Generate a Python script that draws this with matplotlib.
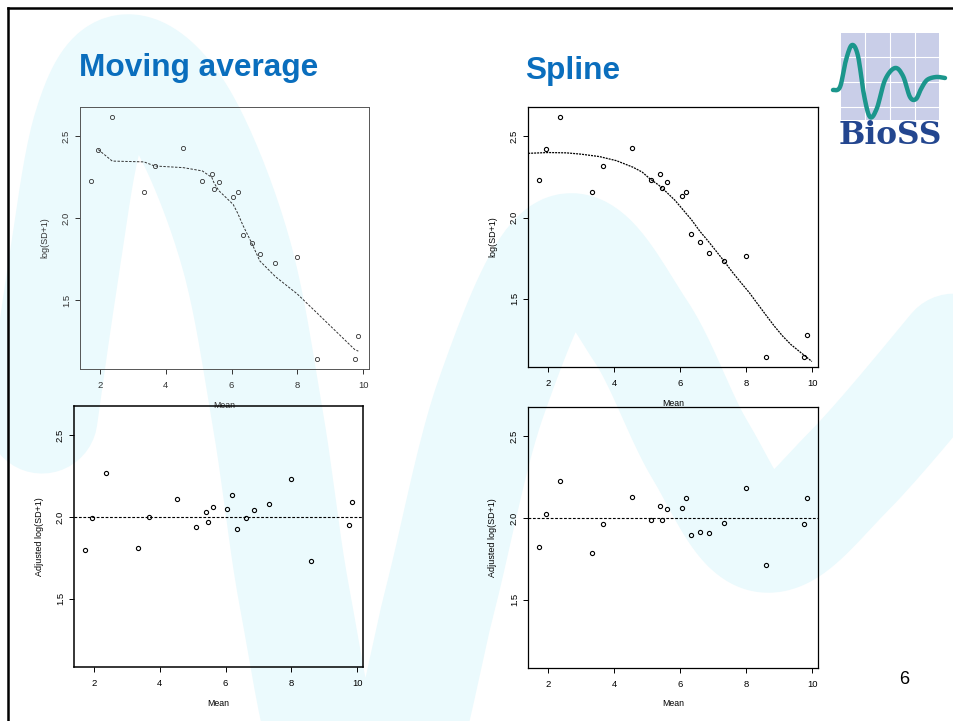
import numpy as np
import matplotlib
matplotlib.use("Agg")
import matplotlib.pyplot as plt
from matplotlib.patches import Rectangle

# ---- data ----
mean_x = [1.72, 1.95, 2.375, 3.34, 3.66, 4.53, 5.11, 5.40, 5.46, 5.61,
          6.05, 6.19, 6.34, 6.61, 6.86, 7.33, 7.99, 8.61, 9.74, 9.85]
log_sd = [2.23, 2.42, 2.62, 2.16, 2.32, 2.43, 2.23, 2.27, 2.18, 2.22,
          2.13, 2.16, 1.90, 1.85, 1.78, 1.73, 1.765, 1.14, 1.14, 1.28]

# moving average fit, drawn from the 2nd point on
ma_x = mean_x[1:]
ma_fit = [2.42, 2.35, 2.345, 2.32, 2.31, 2.29, 2.25, 2.22, 2.17, 2.085,
          2.03, 1.96, 1.85, 1.74, 1.645, 1.54, 1.42, 1.20, 1.19]

# smoothing spline fit
spline_x = [1.40, 2.0, 2.56, 3.0, 3.56, 4.07, 4.57, 4.85, 5.10, 5.35, 5.58, 5.85, 6.08,
            6.35, 6.59, 6.85, 7.09, 7.35, 7.6, 7.85, 8.1, 8.35, 8.6, 8.85, 9.11, 9.35,
            9.61, 9.99]
spline_fit = [2.395, 2.40, 2.398, 2.39, 2.375, 2.35, 2.31, 2.28, 2.236, 2.20, 2.158,
              2.105, 2.05, 1.985, 1.918, 1.855, 1.794, 1.727, 1.66, 1.598, 1.537,
              1.468, 1.40, 1.333, 1.27, 1.22, 1.177, 1.115]

ma_adjusted = [1.797, 1.994, 2.27, 1.81, 2.00, 2.11, 1.94, 2.03, 1.97, 2.06,
               2.046, 2.137, 1.925, 1.994, 2.04, 2.08, 2.234, 1.73, 1.95, 2.09]
spline_adjusted = [1.825, 2.022, 2.224, 1.786, 1.961, 2.127, 1.985, 2.074, 1.985, 2.055,
                   2.062, 2.123, 1.893, 1.915, 1.909, 1.967, 2.181, 1.714, 1.961, 2.12]

x_ticks = [2, 4, 6, 8, 10]
y_ticks = [1.5, 2.0, 2.5]
y_tick_labels = ["1.5", "2.0", "2.5"]
baseline = 2.0

W, H = 954, 721
FONT = "Liberation Sans"
plt.rcParams["font.family"] = [FONT, "DejaVu Sans"]


def catmull(pts, n=20):
    # smooth path through hand placed points (decoration only)
    p = np.array(pts, dtype=float)
    p = np.vstack([p[0], p, p[-1]])
    out = []
    for i in range(1, len(p) - 2):
        p0, p1, p2, p3 = p[i - 1], p[i], p[i + 1], p[i + 2]
        for t in np.linspace(0, 1, n, endpoint=False):
            t2, t3 = t * t, t * t * t
            out.append(0.5 * ((2 * p1) + (-p0 + p2) * t + (2 * p0 - 5 * p1 + 4 * p2 - p3) * t2
                              + (-p0 + 3 * p1 - 3 * p2 + p3) * t3))
    out.append(p[-2])
    return np.array(out)


def px_box(l, t, r, b):
    return [l / W, 1 - b / H, (r - l) / W, (b - t) / H]


fig = plt.figure(figsize=(W / 100, H / 100), dpi=100)

# background: watermark wave, frame, titles, logo
bg = fig.add_axes([0, 0, 1, 1], zorder=0)
bg.set_xlim(0, W)
bg.set_ylim(H, 0)
bg.axis("off")

wave = catmull([(42, 418), (62, 280), (88, 130), (125, 70), (180, 115), (235, 250),
                (268, 420), (295, 600), (335, 775), (395, 770), (440, 600), (492, 395),
                (565, 250), (640, 330), (700, 450), (765, 537), (850, 470), (970, 330)])
bg.plot(wave[:, 0], wave[:, 1], color="#ebfafd", lw=80, solid_capstyle="round", zorder=0)

bg.plot([8, W], [8, 8], color="black", lw=1.8, zorder=3)
bg.plot([8, 8], [8, H], color="black", lw=1.8, zorder=3)

bg.text(79, 76, "Moving average", fontsize=22.8, fontweight="bold", color="#0a6ebd",
        va="baseline", ha="left")
bg.text(525, 79, "Spline", fontsize=22.8, fontweight="bold", color="#0a6ebd",
        va="baseline", ha="left")
bg.text(904, 680, "6", fontsize=13, color="black", ha="center", va="center")

# BioSS logo
bg.add_patch(Rectangle((841, 33), 98, 87, facecolor="#c9cee8", edgecolor="none", zorder=1))
for gx in [865, 890, 915]:
    bg.plot([gx, gx], [33, 120], color="white", lw=0.8, zorder=1)
for gy in [57, 82, 107]:
    bg.plot([841, 939], [gy, gy], color="white", lw=0.8, zorder=1)
logo_wave = catmull([(833, 90), (840, 87), (846, 60), (852, 45), (858, 56), (864, 95),
                     (870, 117), (877, 108), (885, 80), (895, 68), (903, 76), (910, 97),
                     (916, 99), (921, 89), (927, 80), (936, 77), (945, 78)], n=8)
bg.plot(logo_wave[:, 0], logo_wave[:, 1], color="#1b968c", lw=3.2,
        solid_capstyle="round", zorder=2)
bg.text(890, 144, "BioSS", family="DejaVu Serif", fontweight="bold", fontsize=22.5,
        color="#23468f", ha="center", va="baseline", zorder=2)

ylim = (1.081, 2.68)
xlim = (1.395, 10.175)


def setup(box, ylabel, edge="black", lw=0.9, tickcol="black"):
    l, t, r, b = box
    ax = fig.add_axes(px_box(l, t, r, b), zorder=2)
    ax.patch.set_alpha(0)
    ax.set_xlim(*xlim)
    ax.set_ylim(*ylim)
    for s in ax.spines.values():
        s.set_color(edge)
        s.set_linewidth(lw)
    ax.set_xticks(x_ticks)
    ax.set_yticks(y_ticks)
    ax.set_yticklabels(y_tick_labels, rotation=90, va="center")
    ax.tick_params(direction="out", length=3.5, width=0.7, colors=tickcol,
                   labelsize=6.8, labelcolor=tickcol)
    ax.tick_params(axis="x", pad=5)
    ax.tick_params(axis="y", pad=3)
    ax.set_xlabel("Mean", fontsize=6.3, color=tickcol)
    ax.xaxis.set_label_coords(0.5, -36 / (b - t))
    ax.xaxis.label.set_va("center")
    ax.set_ylabel(ylabel, fontsize=6.5, color=tickcol)
    ax.yaxis.set_label_coords(-35 / (r - l), 0.5)
    ax.yaxis.label.set_va("center")
    return ax


# top left: moving average
ax1 = setup((80, 107, 369, 369), "log(SD+1)", edge="#555555", lw=0.7, tickcol="#333333")
ax1.plot(mean_x, log_sd, "o", mfc="none", mec="#333333", mew=0.6, ms=3)
ax1.plot(ma_x, ma_fit, color="#333333", lw=0.7, dashes=(2.5, 1.5))

# top right: spline
ax2 = setup((528, 107, 818, 367), "log(SD+1)")
ax2.plot(mean_x, log_sd, "o", mfc="none", mec="black", mew=0.8, ms=3)
ax2.plot(spline_x, spline_fit, color="black", lw=0.9, dashes=(1.6, 0.8))

# bottom left: adjusted after moving average
ax3 = setup((74, 406, 363, 667), "Adjusted log(SD+1)", lw=1.1)
ax3.plot(mean_x, ma_adjusted, "o", mfc="none", mec="black", mew=0.8, ms=3)
ax3.axhline(baseline, color="black", lw=0.8, dashes=(2.5, 1.5))

# bottom right: adjusted after spline
ax4 = setup((528, 407, 818, 668), "Adjusted log(SD+1)")
ax4.plot(mean_x, spline_adjusted, "o", mfc="none", mec="black", mew=0.8, ms=3)
ax4.axhline(baseline, color="black", lw=0.8, dashes=(2.5, 1.5))

fig.savefig("out.png", dpi=100)
